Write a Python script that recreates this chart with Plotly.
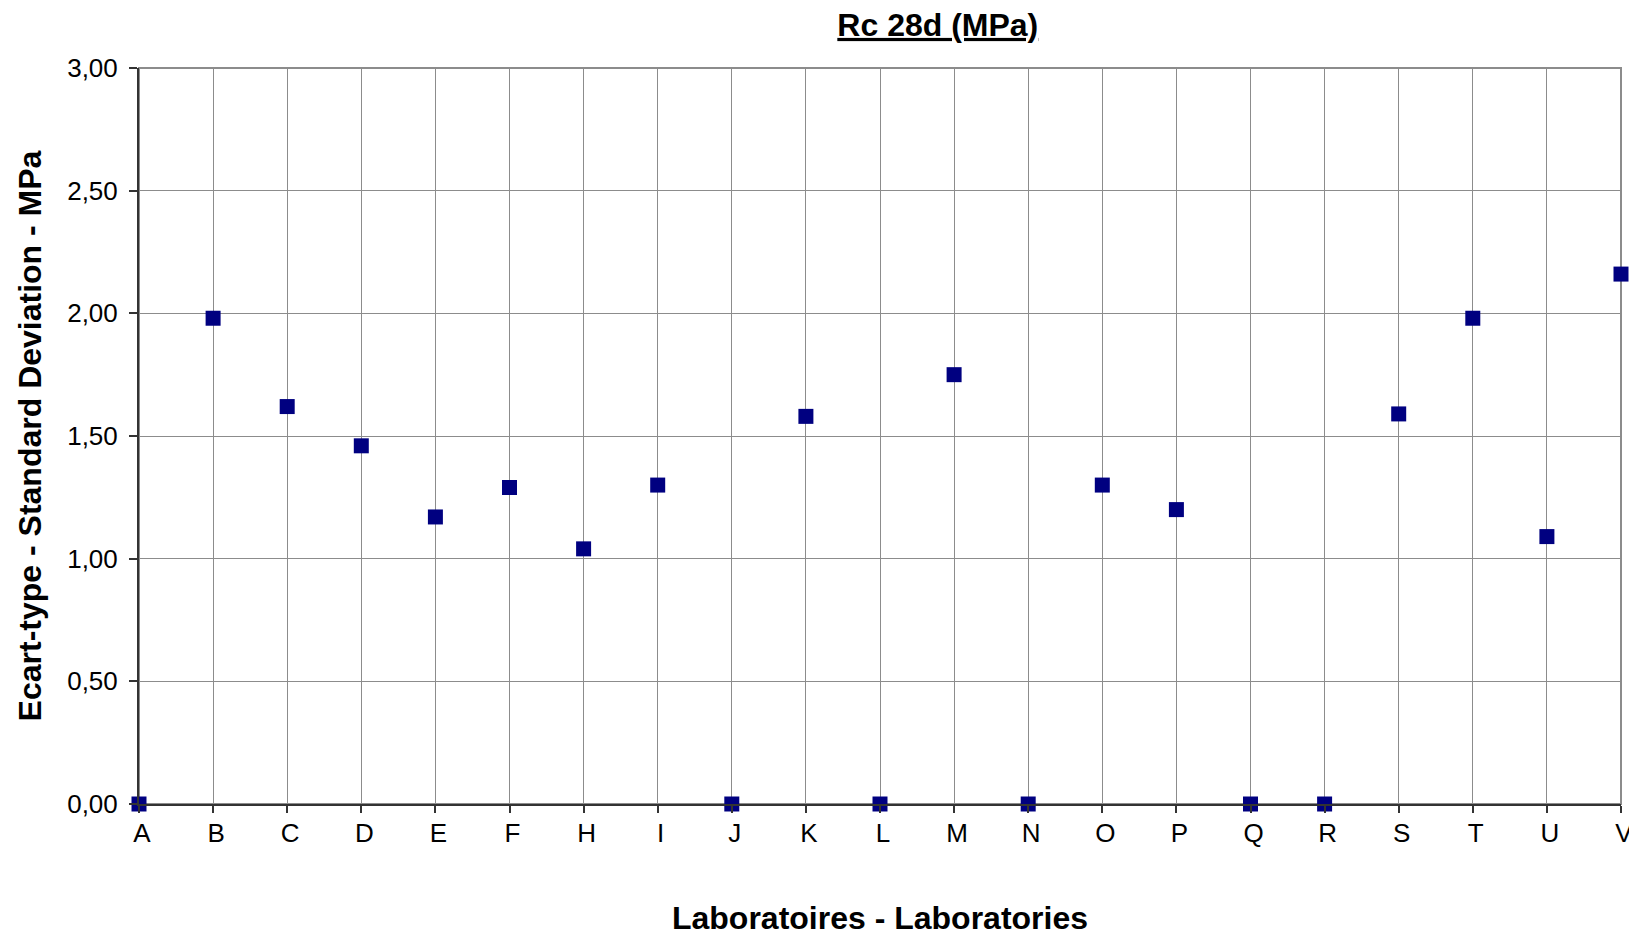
import plotly.graph_objects as go

labs = ["A", "B", "C", "D", "E", "F", "H", "I", "J", "K", "L",
        "M", "N", "O", "P", "Q", "R", "S", "T", "U", "V"]
ecart = [0.00, 1.98, 1.62, 1.46, 1.17, 1.29, 1.04, 1.30, 0.00, 1.58, 0.00,
         1.75, 0.00, 1.30, 1.20, 0.00, 0.00, 1.59, 1.98, 1.09, 2.16]
y_ticks = [0, 0.5, 1.0, 1.5, 2.0, 2.5, 3.0]

FONT = "Arial, Liberation Sans, sans-serif"
GRID = "#8c8c8c"

fig = go.Figure(go.Scatter(
    x=labs, y=ecart, mode="markers",
    marker=dict(symbol="square", size=15, color="#000080",
                line=dict(color="#000080", width=0)),
    cliponaxis=False, showlegend=False,
))

# page body has an 8px margin, so the figure is a bit smaller than the window
fig.update_layout(
    width=1629, height=928,
    paper_bgcolor="white", plot_bgcolor="white",
    margin=dict(l=131, r=16, t=60, b=132),
    separators=", ",
    font=dict(family=FONT, color="black", size=26),
    title=dict(text="<b><u>Rc 28d (MPa)</u></b>", font=dict(size=32, family=FONT),
               x=0.539, xref="paper", xanchor="center", y=0.982, yanchor="middle"),
    shapes=[dict(type="rect", xref="paper", yref="paper", x0=0, x1=1, y0=0, y1=1,
                 line=dict(color=GRID, width=2), layer="below")],
)

fig.update_xaxes(
    type="category", range=[0, len(labs) - 1], automargin=False,
    showgrid=True, gridcolor=GRID, gridwidth=1,
    showline=True, linecolor="#333333", linewidth=2,
    ticks="outside", ticklen=7, tickcolor="#333333", tickwidth=1.5,
    ticklabelshift=3, ticklabelstandoff=-2,
    title=dict(text="<b>Laboratoires - Laboratories</b>", font=dict(size=32), standoff=64),
    zeroline=False,
)
fig.update_yaxes(
    range=[0, 3], tickvals=y_ticks, tickformat=".2f", automargin=False,
    showgrid=True, gridcolor=GRID, gridwidth=1,
    showline=True, linecolor="#333333", linewidth=2,
    ticks="outside", ticklen=8, tickcolor="#333333", tickwidth=1.5,
    ticklabelstandoff=6,
    title=dict(text="<b>Ecart-type - Standard Deviation - MPa</b>", font=dict(size=32), standoff=16),
    zeroline=False,
)

fig.write_html("out.html")
